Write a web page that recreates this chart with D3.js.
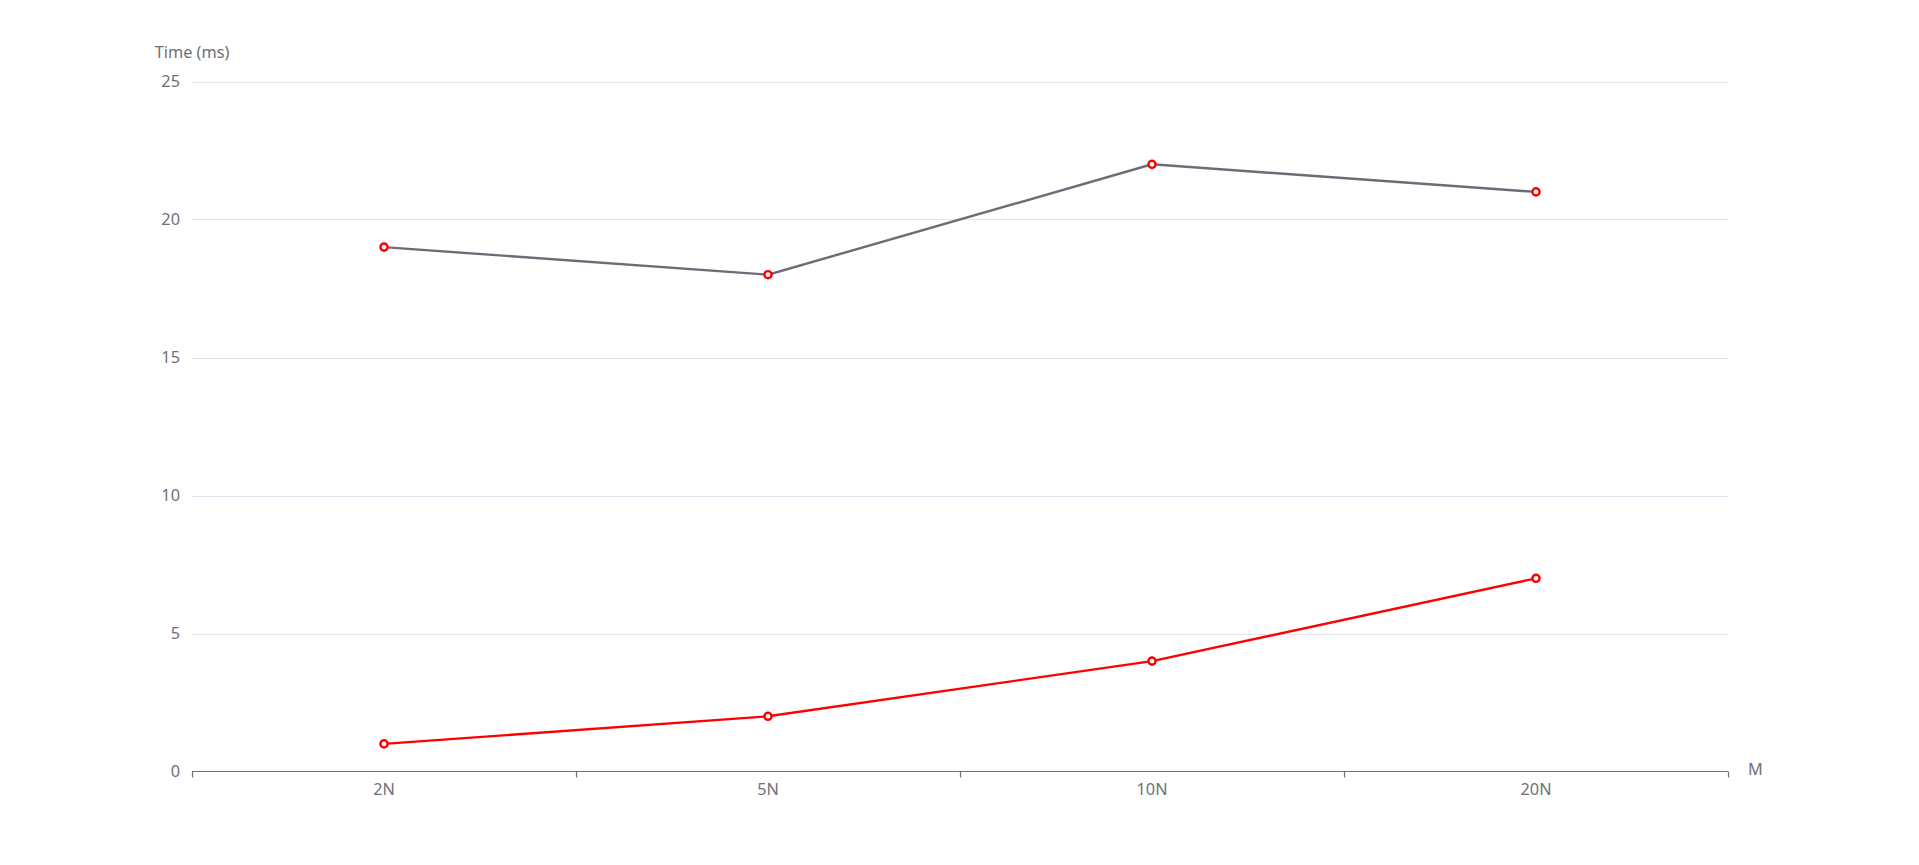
<!DOCTYPE html>
<html><head><meta charset="utf-8">
<script src="https://cdn.jsdelivr.net/npm/d3@7"></script>
<style>body{margin:0;background:#fff;}svg{display:block;}</style>
</head><body>
<svg id="c" width="1919" height="865"></svg>
<script>
const categories = ["2N", "5N", "10N", "20N"];
const seriesA = [19, 18, 22, 21];
const seriesB = [1, 2, 4, 7];
const yTicks = [0, 5, 10, 15, 20, 25];

const svg = d3.select("#c");
const L = 192, R = 1728, T = 81.5, B = 771.5;
const font = "'Noto Sans', 'Open Sans', sans-serif";
const textColor = "#6E7079";
const fs = 16.3;

const x = d3.scaleBand().domain(categories).range([L, R]);
const y = d3.scaleLinear().domain([0, 25]).range([B, T]);

// grid
svg.append("g").selectAll("line").data(yTicks.filter(d => d > 0)).join("line")
  .attr("x1", L).attr("x2", R)
  .attr("y1", d => Math.round(y(d)) + 0.5).attr("y2", d => Math.round(y(d)) + 0.5)
  .attr("stroke", "#E0E6F1").attr("stroke-width", 1.2);

// y labels
svg.append("g").selectAll("text").data(yTicks).join("text")
  .attr("x", L - 12).attr("y", d => y(d)).attr("dy", "0.35em")
  .attr("text-anchor", "end").attr("font-family", font).attr("font-size", fs)
  .attr("fill", textColor).text(d => d);

// x axis
svg.append("line").attr("x1", L).attr("x2", R).attr("y1", B).attr("y2", B)
  .attr("stroke", textColor).attr("stroke-width", 1.2);
const tickPos = categories.map(c => x(c)).concat([R]);
svg.append("g").selectAll("line").data(tickPos).join("line")
  .attr("x1", d => Math.round(d) + 0.5).attr("x2", d => Math.round(d) + 0.5)
  .attr("y1", B).attr("y2", B + 6).attr("stroke", textColor).attr("stroke-width", 1.2);
svg.append("g").selectAll("text").data(categories).join("text")
  .attr("x", d => x(d) + x.bandwidth() / 2).attr("y", B + 18).attr("dy", "0.35em")
  .attr("text-anchor", "middle").attr("font-family", font).attr("font-size", fs)
  .attr("fill", textColor).text(d => d);

// axis names
svg.append("text").attr("x", L).attr("y", 52).attr("dy", "0.35em")
  .attr("text-anchor", "middle").attr("font-family", font).attr("font-size", fs)
  .attr("fill", textColor).text("Time (ms)");
svg.append("text").attr("x", R + 20).attr("y", 769).attr("dy", "0.35em")
  .attr("text-anchor", "start").attr("font-family", font).attr("font-size", fs)
  .attr("fill", textColor).text("M");

const cx = c => x(c) + x.bandwidth() / 2;
function drawSeries(vals, color) {
  const data = categories.map((c, i) => [c, vals[i]]);
  svg.append("path").datum(data)
    .attr("d", d3.line().x(d => cx(d[0])).y(d => y(d[1])))
    .attr("fill", "none").attr("stroke", color).attr("stroke-width", 2.4);
  svg.append("g").selectAll("circle").data(data).join("circle")
    .attr("cx", d => cx(d[0])).attr("cy", d => y(d[1])).attr("r", 3.6)
    .attr("fill", "#fff").attr("stroke", "#ff0000").attr("stroke-width", 2.4);
}
drawSeries(seriesA, "#6E6B78");
drawSeries(seriesB, "#ff0000");
</script>
</body></html>
